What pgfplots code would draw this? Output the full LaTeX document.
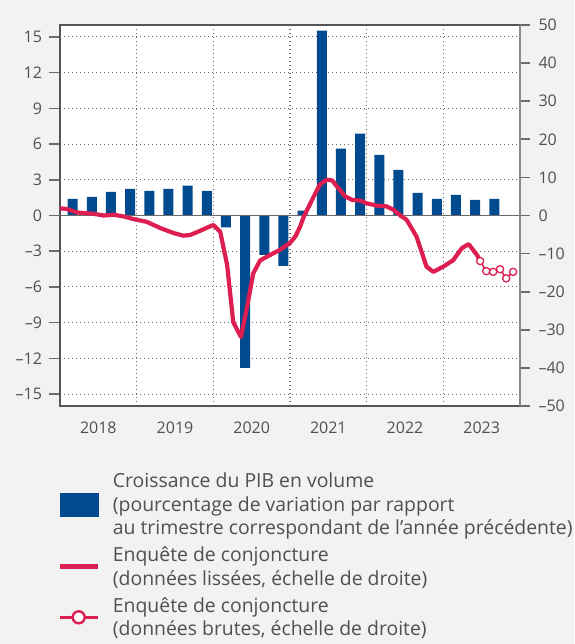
\documentclass[border=0pt]{standalone}
\usepackage{pgfplots}
\pgfplotsset{compat=1.18}
\usepackage{fontspec}
\setmainfont{Open Sans}
\definecolor{bg}{HTML}{F2F2F2}
\definecolor{gdp}{HTML}{004A8F}
\definecolor{survey}{HTML}{DC1E50}
\definecolor{axisdark}{HTML}{555555}
\definecolor{axislight}{HTML}{8A8A8A}
\definecolor{txt}{HTML}{505050}
\definecolor{gridc}{HTML}{6A6A6A}
\begin{document}
\begin{tikzpicture}
\fill[bg] (-60pt,-238pt) rectangle (514pt,406pt);
\begin{axis}[
  scale only axis, width=460pt, height=381pt,
  xmin=2018, xmax=2024, ymin=-16, ymax=16,
  axis background/.style={fill=white},
  axis line style={draw=axisdark, line width=1.6pt},
  xtick={2018.5,2019.5,2020.5,2021.5,2022.5,2023.5},
  xticklabels={2018,2019,2020,2021,2022,2023},
  xtick style={draw=none},
  minor xtick={2019,2020,2021,2022,2023},
  minor x tick style={draw=none},
  xminorgrids, ymajorgrids,
  grid style={gridc, dash pattern=on 1.1pt off 2.9pt, line width=1.1pt},
  ytick={-15,-12,-9,-6,-3,0,3,6,9,12,15},
  yticklabels={–15,–12,–9,–6,–3,0,3,6,9,12,15},
  ytick pos=left,
  tick align=outside, major tick length=11.5pt,
  ytick style={draw=gridc, line width=1.6pt},
  ticklabel style={font=\fontsize{16}{18}\selectfont, text=txt},
  xticklabel style={yshift=-1pt},
  yticklabel style={xshift=-3pt},
]
\addplot[ybar, bar width=10pt, bar shift=0pt, fill=gdp, draw=none] coordinates {
(2018.165,1.40) (2018.415,1.57) (2018.665,1.99) (2018.915,2.24)
(2019.165,2.07) (2019.415,2.24) (2019.665,2.50) (2019.915,2.07)
(2020.165,-1.00) (2020.415,-12.80) (2020.665,-3.31) (2020.915,-4.24)
(2021.165,0.40) (2021.415,15.53) (2021.665,5.61) (2021.915,6.87)
(2022.165,5.10) (2022.415,3.84) (2022.665,1.91) (2022.915,1.40)
(2023.165,1.74) (2023.415,1.32) (2023.665,1.40)
};
\addplot[draw=gridc, line width=1.6pt, forget plot] coordinates {(2018,0) (2024,0)};
\end{axis}
\begin{axis}[
  scale only axis, width=460pt, height=381pt,
  xmin=2018, xmax=2024, ymin=-50, ymax=50,
  axis x line=none, axis y line*=right,
  y axis line style={draw=axislight, line width=1.6pt},
  ytick={-50,-40,-30,-20,-10,0,10,20,30,40,50},
  yticklabels={–50,–40,–30,–20,–10,0,10,20,30,40,50},
  tick align=outside, major tick length=10pt,
  ytick style={draw=gridc, line width=1.6pt},
  ticklabel style={font=\fontsize{16}{18}\selectfont, text=txt},
  yticklabel style={xshift=5pt},
  legend style={at={(axis description cs:-0.0065,-0.176)}, anchor=north west,
    draw=none, fill=none, inner sep=0pt, row sep=10.5pt, column sep=0pt,
    font=\fontsize{19.4}{23.5}\selectfont, text=txt,
    cells={anchor=west, align=left},
    nodes={inner xsep=0pt, inner ysep=0pt}},
  legend cell align=left,
]
\addlegendimage{legend image code/.code={\fill[gdp] (0pt,-11.5pt) rectangle (38pt,11.5pt); \path (53pt,0pt);}}
\addlegendentry{Croissance du PIB en volume\\(pourcentage de variation par rapport\\au trimestre correspondant de l’année précédente)}
\addlegendimage{legend image code/.code={\draw[survey, line width=5pt] (0pt,0pt) -- (38pt,0pt); \path (53pt,0pt);}}
\addlegendentry{Enquête de conjoncture\\(données lissées, échelle de droite)}
\addlegendimage{legend image code/.code={\draw[survey, line width=2.6pt] (0pt,0pt) -- (38pt,0pt); \draw[survey, fill=white, line width=2.4pt] (19pt,0pt) circle (6pt); \path (53pt,0pt);}}
\addlegendentry{Enquête de conjoncture\\(données brutes, échelle de droite)}
\addplot[survey, line width=4.2pt, line join=round, line cap=round, forget plot] coordinates {
(2018.00,1.9) (2018.09,1.7) (2018.22,0.8) (2018.44,0.45) (2018.57,0.0)
(2018.70,0.2) (2018.83,-0.25) (2018.96,-0.95) (2019.13,-1.66) (2019.31,-3.3)
(2019.48,-4.6) (2019.61,-5.3) (2019.70,-5.1) (2019.83,-4.0) (2019.94,-3.0)
(2020.00,-2.5) (2020.09,-4.3) (2020.18,-13.0) (2020.26,-28.0) (2020.36,-31.9)
(2020.44,-24.0) (2020.52,-15.2) (2020.61,-11.8) (2020.70,-10.8) (2020.87,-9.0)
(2021.00,-7.2) (2021.07,-5.5) (2021.13,-3.0) (2021.18,-0.3) (2021.31,5.0)
(2021.39,8.1) (2021.48,9.4) (2021.55,9.2) (2021.63,7.2) (2021.72,5.0)
(2021.81,4.1) (2021.92,3.9) (2022.00,3.2) (2022.13,2.6) (2022.26,2.4)
(2022.35,1.5) (2022.44,0.0) (2022.52,-1.1) (2022.65,-5.5) (2022.78,-13.4)
(2022.87,-14.8) (2023.00,-13.4) (2023.13,-11.7) (2023.24,-8.6) (2023.33,-7.5)
(2023.44,-10.4) (2023.48,-11.95)
};
\addplot[survey, line width=1.6pt, mark=*, mark size=3.6pt, mark options={fill=white, line width=1.3pt}, forget plot] coordinates {
(2023.48,-11.95) (2023.56,-14.6) (2023.65,-14.8) (2023.74,-14.1) (2023.82,-16.5) (2023.91,-14.8)
};
\end{axis}
\end{tikzpicture}
\end{document}
